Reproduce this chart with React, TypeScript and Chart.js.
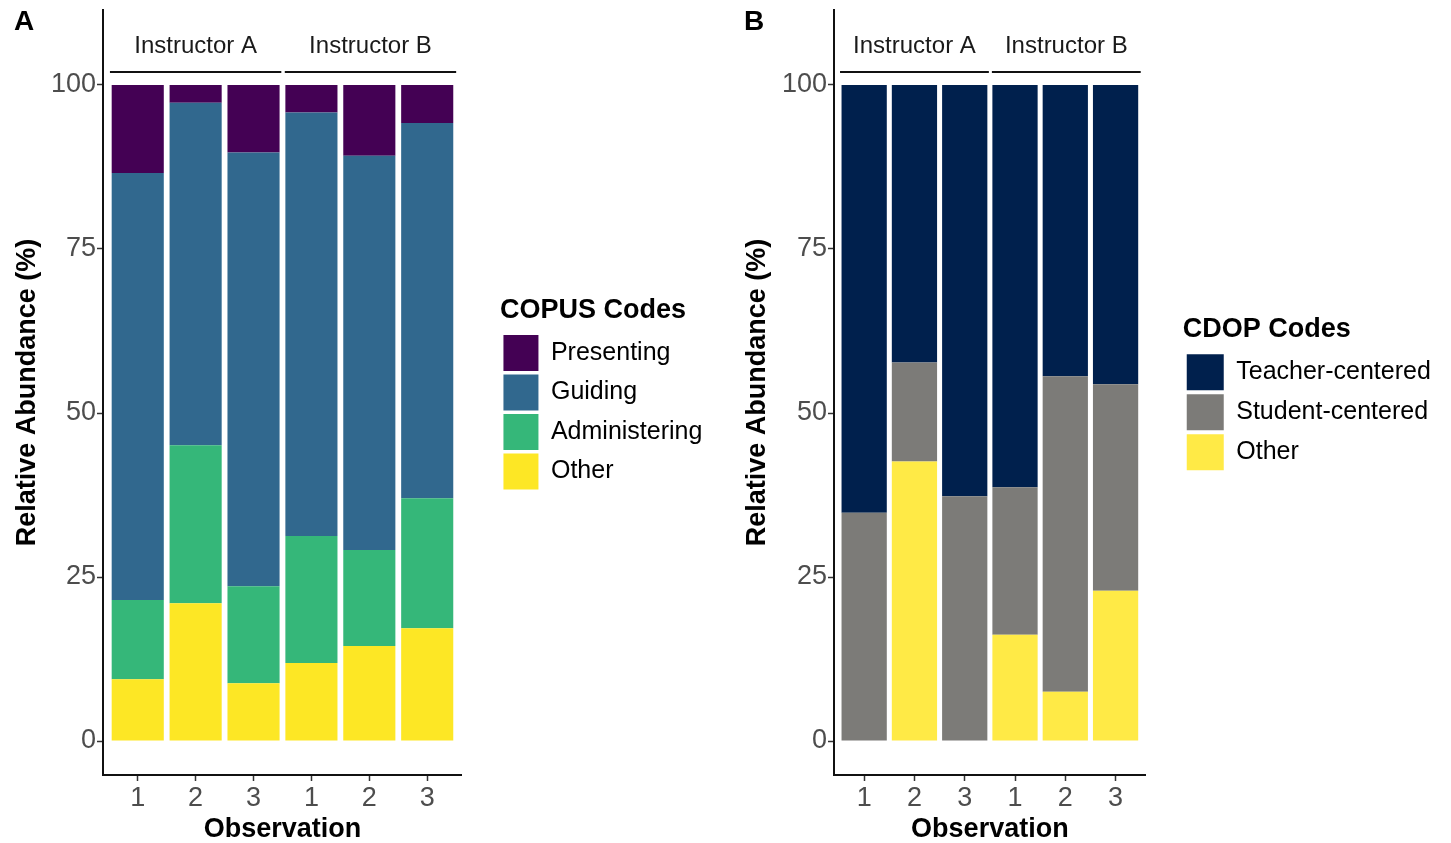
import React, { useEffect, useRef } from "react";
import { Chart, registerables } from "chart.js";

Chart.register(...registerables);
Chart.defaults.font.family = '"Liberation Sans", Arial, sans-serif';

// ---------- data ----------
const observations = ["1", "2", "3", "1", "2", "3"];
const instructors = ["Instructor A", "Instructor B"];
const yTicks = [0, 25, 50, 75, 100];

// Panel A: COPUS codes (segment heights, %)
const copusLabels = ["Presenting", "Guiding", "Administering", "Other"];
const copusPresenting = [13.4, 2.7, 10.3, 4.2, 10.8, 5.8];
const copusGuiding = [65.1, 52.2, 66.1, 64.55, 60.1, 57.2];
const copusAdministering = [12.1, 24.1, 14.8, 19.35, 14.6, 19.8];
const copusOther = [9.4, 21.0, 8.8, 11.9, 14.5, 17.2];

// Panel B: CDOP codes (segment heights, %)
const cdopLabels = ["Teacher-centered", "Student-centered", "Other"];
const cdopTeacher = [65.2, 42.3, 62.7, 61.3, 44.4, 45.6];
const cdopStudent = [34.8, 15.1, 37.3, 22.5, 48.1, 31.5];
const cdopOther = [0, 42.6, 0, 16.2, 7.5, 22.9];

// ---------- helpers ----------
const toPoints = (vals: number[]) => vals.map((v, i) => ({ x: i + 1, y: v }));

const stripPlugin = {
  id: "strips",
  afterDraw(chart: any, _args: any, opts: any) {
    const { ctx, chartArea, scales } = chart;
    const x = scales.x;
    ctx.save();
    const facets = [
      { from: 0.52, to: 3.48, label: instructors[0] },
      { from: 3.54, to: 6.5, label: instructors[1] },
    ];
    facets.forEach((f) => {
      const x0 = x.getPixelForValue(f.from);
      const x1 = x.getPixelForValue(f.to);
      ctx.strokeStyle = "#111";
      ctx.lineWidth = 2;
      ctx.beginPath();
      ctx.moveTo(x0, chartArea.top + 62);
      ctx.lineTo(x1, chartArea.top + 62);
      ctx.stroke();
      ctx.font = '24px "Liberation Sans", Arial, sans-serif';
      ctx.fillStyle = "#1a1a1a";
      ctx.textAlign = "center";
      ctx.textBaseline = "middle";
      ctx.fillText(f.label, (x0 + x1) / 2, chartArea.top + 36);
    });
    ctx.font = 'bold 28px "Liberation Sans", Arial, sans-serif';
    ctx.fillStyle = "#000";
    ctx.textAlign = "left";
    ctx.textBaseline = "middle";
    ctx.fillText(opts.tag, opts.tagX, 22);
    ctx.restore();
  },
};

function makeConfig(p: {
  datasets: any[];
  yWidth: number;
  gapWidth: number;
  padRight: number;
  boxWidth: number;
  itemPadding: number;
  legendTitle: string;
  tag: string;
}) {
  return {
    type: "bar",
    data: { datasets: p.datasets },
    plugins: [stripPlugin],
    options: {
      responsive: false,
      animation: false,
      layout: { padding: { top: 10, bottom: 0, left: 0, right: p.padRight } },
      plugins: {
        strips: { tag: p.tag, tagX: 14 },
        tooltip: { enabled: false },
        legend: {
          display: true,
          position: "right",
          align: "center",
          fullSize: false,
          reverse: true,
          maxWidth: 600,
          title: {
            display: true,
            text: p.legendTitle,
            position: "start",
            color: "#000",
            font: { size: 27, weight: "bold" },
            padding: { top: 5, bottom: 2.1 },
          },
          labels: {
            boxWidth: p.boxWidth,
            boxHeight: 36,
            padding: p.itemPadding,
            color: "#000",
            font: { size: 25 },
          },
        },
      },
      scales: {
        x: {
          type: "linear",
          min: 0.4,
          max: 6.6,
          offset: false,
          stacked: true,
          afterBuildTicks: (s: any) => {
            s.ticks = observations.map((_, i) => ({ value: i + 1 }));
          },
          afterFit: (s: any) => {
            s.height = 68;
            s.paddingLeft = 0;
            s.paddingRight = 0;
          },
          ticks: {
            autoSkip: false,
            maxRotation: 0,
            padding: 1,
            color: "#4d4d4d",
            font: { size: 27 },
            callback: (_v: any, i: number) => observations[i],
          },
          grid: {
            display: true,
            offset: false,
            drawOnChartArea: false,
            drawTicks: true,
            tickLength: 6,
            tickColor: "#333",
            tickWidth: 1.5,
          },
          border: { display: true, color: "#111", width: 2 },
          title: {
            display: true,
            text: "Observation",
            color: "#000",
            font: { size: 27, weight: "bold", lineHeight: 1 },
            padding: { top: 0, bottom: 0 },
          },
        },
        y: {
          type: "linear",
          min: -5.18,
          max: 111.43,
          stacked: true,
          afterBuildTicks: (s: any) => {
            s.ticks = yTicks.map((v) => ({ value: v }));
          },
          afterFit: (s: any) => {
            s.width = p.yWidth;
            s.paddingTop = 0;
            s.paddingBottom = 0;
          },
          ticks: {
            padding: 1,
            color: "#4d4d4d",
            font: { size: 27 },
          },
          grid: {
            display: true,
            drawOnChartArea: false,
            drawTicks: true,
            tickLength: 6,
            tickColor: "#333",
            tickWidth: 1.5,
          },
          border: { display: true, color: "#111", width: 2 },
          title: {
            display: true,
            text: "Relative Abundance (%)",
            color: "#000",
            font: { size: 27, weight: "bold", lineHeight: 1.2 },
            padding: { top: 11, bottom: 0 },
          },
        },
        gap: {
          axis: "y",
          type: "linear",
          position: "right",
          display: true,
          grid: { display: false },
          border: { display: false },
          ticks: { display: false },
          title: { display: false },
          afterFit: (s: any) => {
            s.width = p.gapWidth;
            s.paddingTop = 0;
            s.paddingBottom = 0;
          },
        },
      },
    },
  } as any;
}

const barDefaults = { borderWidth: 0, barPercentage: 0.9, categoryPercentage: 1.0 };

function Panel(props: { left: number; width: number; config: any }) {
  const ref = useRef<HTMLCanvasElement | null>(null);
  useEffect(() => {
    if (!ref.current) return;
    const chart = new Chart(ref.current, props.config);
    return () => chart.destroy();
  }, []);
  return (
    <canvas
      ref={ref}
      width={props.width}
      height={843}
      style={{ position: "absolute", left: props.left, top: 0, width: props.width, height: 843 }}
    />
  );
}

export default function App() {
  const configA = makeConfig({
    datasets: [
      { label: copusLabels[3], data: toPoints(copusOther), backgroundColor: "#FDE725", ...barDefaults },
      { label: copusLabels[2], data: toPoints(copusAdministering), backgroundColor: "#35B779", ...barDefaults },
      { label: copusLabels[1], data: toPoints(copusGuiding), backgroundColor: "#31688E", ...barDefaults },
      { label: copusLabels[0], data: toPoints(copusPresenting), backgroundColor: "#440154", ...barDefaults },
    ],
    yWidth: 103,
    gapWidth: 38,
    padRight: 17.6,
    boxWidth: 35,
    itemPadding: 3.5,
    legendTitle: "COPUS Codes",
    tag: "A",
  });
  const configB = makeConfig({
    datasets: [
      { label: cdopLabels[2], data: toPoints(cdopOther), backgroundColor: "#FFEA46", ...barDefaults },
      { label: cdopLabels[1], data: toPoints(cdopStudent), backgroundColor: "#7C7B78", ...barDefaults },
      { label: cdopLabels[0], data: toPoints(cdopTeacher), backgroundColor: "#00204D", ...barDefaults },
    ],
    yWidth: 104,
    gapWidth: 37,
    padRight: 10.2,
    boxWidth: 37,
    itemPadding: 4,
    legendTitle: "CDOP Codes",
    tag: "B",
  });
  return (
    <div style={{ position: "absolute", left: 0, top: 0, width: 1451, height: 843, background: "#fff" }}>
      <Panel left={0} width={730} config={configA} />
      <Panel left={730} width={721} config={configB} />
    </div>
  );
}
